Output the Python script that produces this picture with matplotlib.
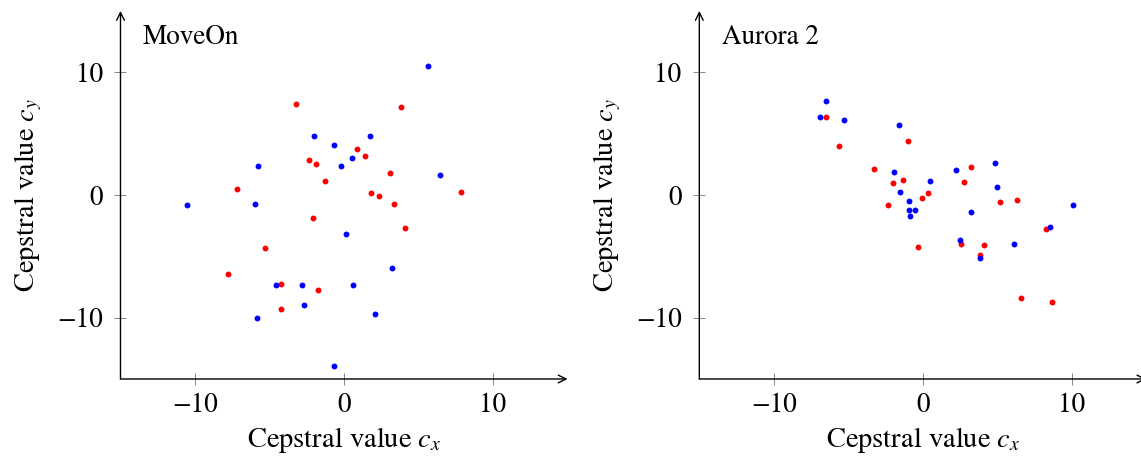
import matplotlib
matplotlib.use("Agg")
import matplotlib.pyplot as plt

plt.rcParams["font.family"] = ["STIXGeneral", "DejaVu Serif"]
plt.rcParams["mathtext.fontset"] = "stix"

# MoveOn cepstral pairs
moveon_blue_x = [-2.01, -0.69, -0.18, -5.79, -10.56, -5.95, 5.64, 1.77, 0.54, 6.44,
                 0.15, -4.54, -2.82, -2.70, -5.86, -0.65, 3.24, 0.62, 2.08]
moveon_blue_y = [4.83, 4.10, 2.39, 2.39, -0.81, -0.76, 10.51, 4.78, 3.02, 1.63,
                 -3.15, -7.31, -7.31, -8.94, -10.00, -13.94, -5.92, -7.31, -9.67]
moveon_red_x = [-3.24, -2.33, -1.88, -1.28, -7.18, -2.06, 3.83, 0.89, 1.41, 3.11,
                1.83, 2.35, 7.83, 3.36, -5.28, -7.76, -4.21, -1.72, -4.23, 4.12]
moveon_red_y = [7.42, 2.85, 2.55, 1.17, 0.52, -1.85, 7.17, 3.75, 3.18, 1.79,
                0.16, -0.08, 0.24, -0.73, -4.29, -6.47, -7.25, -7.72, -9.29, -2.72]

# Aurora 2 cepstral pairs
aurora_blue_x = [-6.48, -6.90, -5.31, -1.60, -1.93, 0.45, -1.53, -0.91, -0.95, -0.50,
                 -0.86, 4.87, 2.21, 4.98, 3.26, 10.10, 8.56, 2.47, 6.14, 3.86]
aurora_blue_y = [7.69, 6.38, 6.14, 5.68, 1.87, 1.11, 0.22, -0.46, -1.20, -1.25,
                 -1.71, 2.58, 2.04, 0.63, -1.39, -0.84, -2.58, -3.67, -3.99, -5.11]
aurora_red_x = [-6.50, -0.97, -5.64, -3.26, -1.98, -1.31, -0.03, 0.35, -2.34, -0.30,
                3.23, 2.77, 5.18, 6.34, 8.27, 2.56, 4.13, 3.86, 6.57, 8.67]
aurora_red_y = [6.38, 4.43, 3.97, 2.09, 1.00, 1.20, -0.24, 0.15, -0.81, -4.27,
                2.26, 1.09, -0.57, -0.38, -2.75, -4.02, -4.10, -4.89, -8.39, -8.69]

ticks = [-10, 0, 10]
fs = 19.5
label_fs = 20.5

fig = plt.figure(figsize=(11.41, 4.57), dpi=100)
ax1 = fig.add_axes([0.1056, 0.1707, 0.3918, 0.8053])
ax2 = fig.add_axes([0.6129, 0.1707, 0.3918, 0.8053])


def draw_panel(ax, title, bx, by, rx, ry):
    ax.scatter(rx, ry, s=18, color="#ff0000", linewidths=0, zorder=3)
    ax.scatter(bx, by, s=18, color="#0000ff", linewidths=0, zorder=3)
    ax.set_xlim(-15, 15)
    ax.set_ylim(-15, 15)
    ax.set_xticks(ticks)
    ax.set_yticks(ticks)
    for s in ax.spines.values():
        s.set_visible(False)
    ax.tick_params(direction="inout", length=8.6, width=0.6, color="0.45",
                   labelsize=fs)
    ax.tick_params(axis="y", pad=8.5)
    ax.tick_params(axis="x", pad=6)
    # axis lines with arrow heads
    arrow = dict(arrowstyle="->", lw=1.0, color="black", shrinkA=0, shrinkB=0,
                 mutation_scale=14)
    ax.annotate("", xy=(1, 0), xytext=(0, 0), xycoords="axes fraction",
                arrowprops=arrow)
    ax.annotate("", xy=(0, 1), xytext=(0, 0), xycoords="axes fraction",
                arrowprops=arrow)
    ax.text(0.05, 0.91, title, transform=ax.transAxes, fontsize=fs,
            va="baseline", ha="left")
    ax.set_xlabel("Cepstral value $c_x$", fontsize=label_fs)
    ax.set_ylabel("Cepstral value $c_y$", fontsize=label_fs)
    ax.xaxis.set_label_coords(0.5, -0.125)
    ax.yaxis.set_label_coords(-0.171, 0.5)


draw_panel(ax1, "MoveOn", moveon_blue_x, moveon_blue_y, moveon_red_x, moveon_red_y)
draw_panel(ax2, "Aurora 2", aurora_blue_x, aurora_blue_y, aurora_red_x, aurora_red_y)

fig.savefig("out.png", dpi=100)
